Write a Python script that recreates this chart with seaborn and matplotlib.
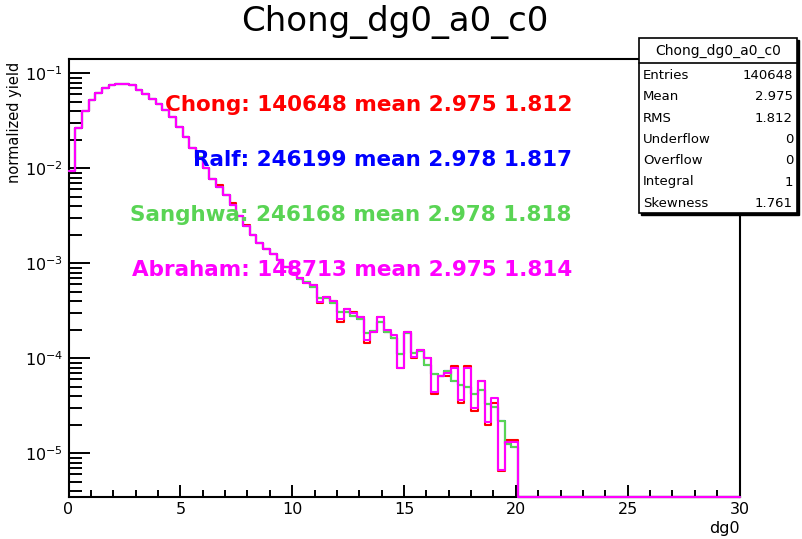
import numpy as np
import pandas as pd
import matplotlib
matplotlib.use("Agg")
import matplotlib.pyplot as plt
import seaborn as sns
from matplotlib.ticker import LogLocator, LogFormatterSciNotation, MultipleLocator, NullFormatter
from matplotlib.patches import Rectangle
from matplotlib.lines import Line2D

# ---------------- data (normalized yield per bin, bin width 0.3 on 0..30) -------------
x_lo, x_hi, n_bins = 0.0, 30.0, 100
y_lo, y_hi = 3.5e-6, 0.1415

abraham = [0.0093, 0.0265, 0.0398, 0.0527, 0.0621, 0.0700, 0.0759, 0.0771, 0.0771, 0.0748,
           0.0672, 0.0605, 0.0541, 0.0475, 0.0414, 0.0344, 0.0272, 0.0212, 0.0165, 0.0130,
           0.0102, 0.0078, 0.0064, 0.0052, 0.0041, 0.00315, 0.00247, 0.00199, 0.00164, 0.00142,
           0.00125, 0.00108, 0.00091, 0.00079, 0.000695, 0.00062, 0.00059, 0.000394, 0.00044, 0.000405,
           0.000257, 0.000328, 0.000298, 0.00027, 0.000156, 0.00019, 0.00027, 0.000199, 0.000176, 0.0000785,
           0.00019, 0.000104, 0.000122, 0.000100, 0.0000445, 0.000065, 0.0000695, 0.000080, 0.0000363, 0.000080,
           0.0000298, 0.0000576, 0.0000215, 0.000038, 0.0000067, 0.0000132, 0.0000132]

chong = [0.0093, 0.0265, 0.0398, 0.0527, 0.0621, 0.0700, 0.0759, 0.0771, 0.0773, 0.0756,
         0.0672, 0.0605, 0.0541, 0.0475, 0.0414, 0.0344, 0.0272, 0.0212, 0.0165, 0.0130,
         0.0102, 0.0078, 0.0066, 0.0052, 0.0043, 0.00315, 0.00255, 0.00199, 0.00164, 0.00142,
         0.00125, 0.00108, 0.00091, 0.00079, 0.000695, 0.00062, 0.00059, 0.00038, 0.00044, 0.000405,
         0.00024, 0.000328, 0.00031, 0.00027, 0.000145, 0.00019, 0.00027, 0.00019, 0.000165, 0.0000785,
         0.00019, 0.0001, 0.000122, 0.000100, 0.000042, 0.000065, 0.000066, 0.000083, 0.000034, 0.000083,
         0.000028, 0.0000576, 0.00002, 0.000034, 0.0000065, 0.0000138, 0.0000138]

ralf = [0.0094, 0.0265, 0.0398, 0.0527, 0.0621, 0.0700, 0.0759, 0.0771, 0.0771, 0.0748,
        0.0672, 0.0605, 0.0541, 0.0475, 0.0416, 0.0344, 0.0272, 0.0212, 0.0165, 0.0130,
        0.0102, 0.0078, 0.0064, 0.0052, 0.0041, 0.00315, 0.00247, 0.00199, 0.00164, 0.00142,
        0.00125, 0.00108, 0.00091, 0.00079, 0.00069, 0.00063, 0.00056, 0.00043, 0.00043, 0.00038,
        0.00031, 0.00031, 0.00028, 0.00026, 0.000185, 0.000195, 0.00024, 0.00019, 0.000165, 0.000112,
        0.000185, 0.000115, 0.000120, 0.000085, 0.000068, 0.000066, 0.000074, 0.000058, 0.000052, 0.000050,
        0.000042, 0.000046, 0.000033, 0.000031, 0.000022, 0.0000125, 0.0000118]

sanghwa = [0.0094, 0.0265, 0.0398, 0.0527, 0.0621, 0.0700, 0.0759, 0.0771, 0.0771, 0.0748,
           0.0672, 0.0605, 0.0541, 0.0478, 0.0414, 0.0344, 0.0274, 0.0212, 0.0165, 0.0131,
           0.0102, 0.0078, 0.0064, 0.0052, 0.0041, 0.00318, 0.00247, 0.00201, 0.00164, 0.00142,
           0.00125, 0.00108, 0.00091, 0.00079, 0.00069, 0.00063, 0.00056, 0.00043, 0.00043, 0.00038,
           0.00031, 0.00031, 0.00028, 0.00026, 0.000185, 0.000195, 0.00024, 0.00019, 0.000165, 0.000112,
           0.000185, 0.000115, 0.000120, 0.000085, 0.000068, 0.000066, 0.000074, 0.000058, 0.000052, 0.000050,
           0.000042, 0.000046, 0.000033, 0.000031, 0.000022, 0.0000125, 0.0000118]

names = ["Chong", "Ralf", "Sanghwa", "Abraham"]
entries = [140648, 246199, 246168, 148713]
means = [2.975, 2.978, 2.978, 2.975]
rms = [1.812, 1.817, 1.818, 1.814]
colors = ["#ff0000", "#0000ff", "#59d454", "#ff00ff"]

stat_labels = ["Entries", "Mean", "RMS", "Underflow", "Overflow", "Integral", "Skewness"]
stat_values = ["140648", "2.975", "1.812", "0", "0", "1", "1.761"]

# ---------------- figure ----------------
W, H = 802, 539
sns.set_style("white")
plt.rcParams["font.family"] = ["DejaVu Sans"]
plt.rcParams["mathtext.fontset"] = "dejavusans"
plt.rcParams["text.color"] = "black"
plt.rcParams["xtick.color"] = "black"
plt.rcParams["ytick.color"] = "black"

fig = plt.figure(figsize=(W / 100, H / 100), dpi=100)
ax = fig.add_axes([68.5 / W, 1 - 496.7 / H, (739.5 - 68.5) / W, (496.7 - 59) / H])
ax.set_yscale("log")

edges = np.linspace(x_lo, x_hi, n_bins + 1)
centers = 0.5 * (edges[:-1] + edges[1:])

for vals, col in zip([chong, ralf, sanghwa, abraham], colors):
    v = np.zeros(n_bins)
    v[:len(vals)] = vals
    v = np.where(v > 0, v, y_lo)  # empty bins drawn on the frame bottom (ROOT style)
    df = pd.DataFrame({"x": centers, "w": v})
    sns.histplot(data=df, x="x", weights="w", bins=list(edges), element="step", fill=False,
                 color=col, linewidth=1.5, ax=ax, zorder=3, clip_on=False)

ax.set_xlim(x_lo, x_hi)
ax.set_ylim(y_lo, y_hi)
ax.set_xlabel("")
ax.set_ylabel("")

ax.xaxis.set_major_locator(MultipleLocator(5))
ax.xaxis.set_minor_locator(MultipleLocator(1))
ax.yaxis.set_major_locator(LogLocator(base=10, numticks=20))
ax.yaxis.set_minor_locator(LogLocator(base=10, subs=np.arange(2, 10), numticks=100))
ax.yaxis.set_major_formatter(LogFormatterSciNotation())
ax.yaxis.set_minor_formatter(NullFormatter())

ax.tick_params(which="both", direction="in", bottom=True, left=True, top=False, right=False,
               color="black", labelcolor="black", width=1.4)
ax.tick_params(axis="x", which="major", length=9, labelsize=11.5, pad=4)
ax.tick_params(axis="x", which="minor", length=5)
ax.tick_params(axis="y", which="major", length=15, labelsize=11.5, pad=4)
ax.tick_params(axis="y", which="minor", length=9)
for s in ax.spines.values():
    s.set_linewidth(1.5)
    s.set_color("black")

# axis titles
fig.text(740 / W, 1 - 529 / H, "dg0", ha="right", va="center", fontsize=11.5)
fig.text(15 / W, 1 - 62 / H, "normalized yield", rotation=90, ha="center", va="top", fontsize=10.5)

# title
fig.text(395 / W, 1 - 22 / H, "Chong_dg0_a0_c0", ha="center", va="center", fontsize=24.5)

# annotations
ann_y = [105, 160, 215, 270]
for name, n, m, r, col, yy in zip(names, entries, means, rms, colors, ann_y):
    fig.text(572 / W, 1 - yy / H, f"{name}: {n} mean {m:.3f} {r:.3f}", ha="right", va="center",
             fontsize=15.5, fontweight="bold", color=col)

# stats box
bx0, bx1, by0, by1 = 638.7, 797.0, 38.3, 213.0
fig.patches.append(Rectangle((bx0 / W + 2 / W, 1 - (by1 + 2) / H), (bx1 - bx0) / W, (by1 - by0) / H,
                             transform=fig.transFigure, facecolor="black", edgecolor="black", zorder=4))
fig.patches.append(Rectangle((bx0 / W, 1 - by1 / H), (bx1 - bx0) / W, (by1 - by0) / H,
                             transform=fig.transFigure, facecolor="white", edgecolor="black",
                             linewidth=1.2, zorder=5))
fig.lines.append(Line2D([bx0 / W, bx1 / W], [1 - 63.3 / H, 1 - 63.3 / H], transform=fig.transFigure,
                        color="black", linewidth=1.2, zorder=6))
fig.text((bx0 + bx1) / 2 / W, 1 - 50.5 / H, "Chong_dg0_a0_c0", ha="center", va="center", fontsize=10, zorder=7)
for i, (lab, val) in enumerate(zip(stat_labels, stat_values)):
    yy = 75.5 + 21.3 * i
    fig.text(643 / W, 1 - yy / H, lab, ha="left", va="center", fontsize=9.5, zorder=7)
    fig.text(793 / W, 1 - yy / H, val, ha="right", va="center", fontsize=9.5, zorder=7)

fig.savefig("out.png", dpi=100, facecolor="white")
